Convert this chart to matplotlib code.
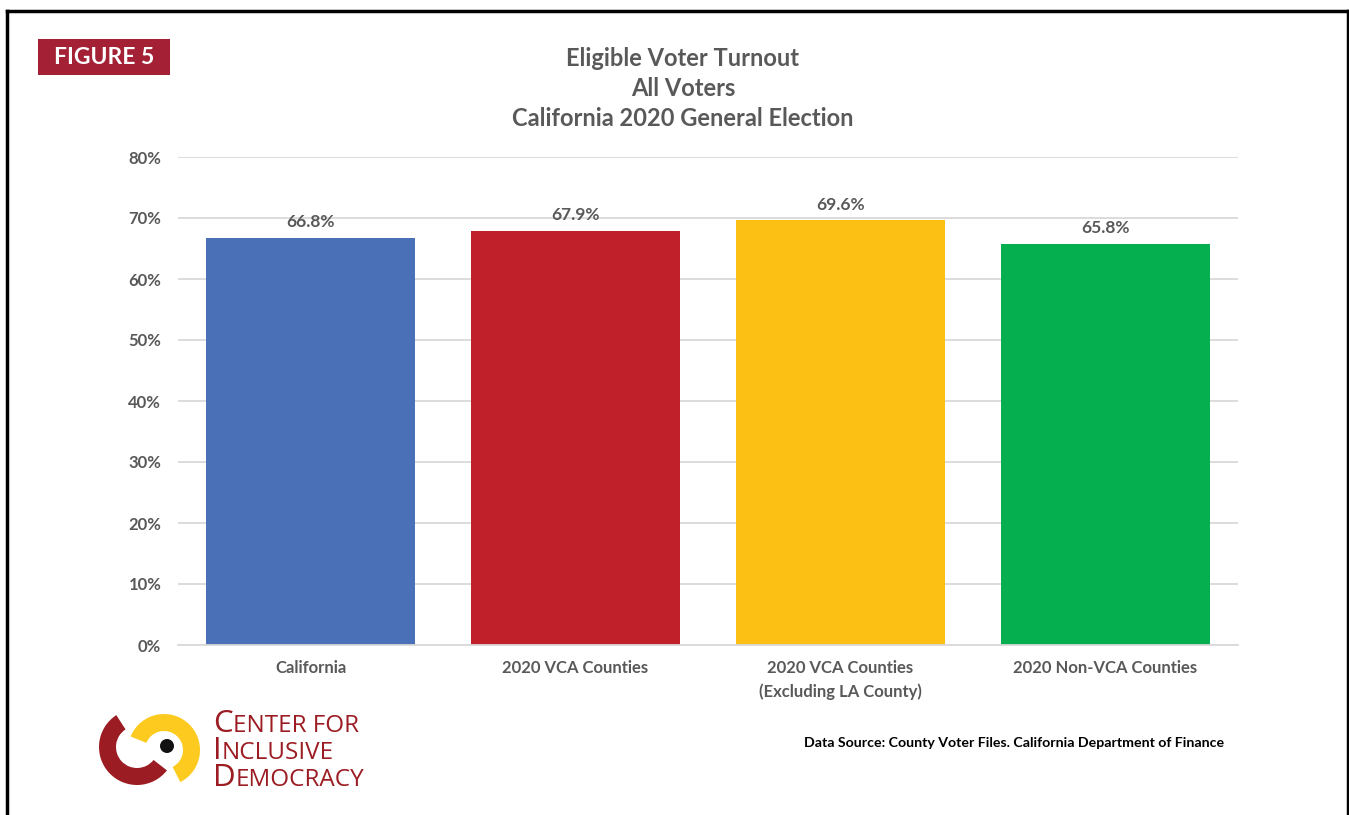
import matplotlib
matplotlib.use('Agg')
import matplotlib.pyplot as plt
from matplotlib.patches import Rectangle, Wedge, Circle
from matplotlib.ticker import FuncFormatter

# turnout by region
categories = ['California', '2020 VCA Counties',
              '2020 VCA Counties\n(Excluding LA County)', '2020 Non-VCA Counties']
turnout = [66.8, 67.9, 69.6, 65.8]
bar_colors = ['#4A71B7', '#C0202A', '#FCC014', '#05AF50']
y_ticks = [0, 10, 20, 30, 40, 50, 60, 70, 80]

W, H = 1349, 815
GRAY = '#595959'
BRAND_RED = '#9B1C22'

plt.rcParams['font.family'] = ['Lato', 'DejaVu Sans']

fig = plt.figure(figsize=(W / 100, H / 100), dpi=100)


def fx(px):
    return px / W


def fy(py):
    return 1 - py / H


# outer frame (no bottom edge)
fig.add_artist(plt.Line2D([fx(7), fx(7)], [fy(11), 0], color='black', lw=2.5))
fig.add_artist(plt.Line2D([fx(7), fx(1347.5)], [fy(11), fy(11)], color='black', lw=2.5))
fig.add_artist(plt.Line2D([fx(1347.5), fx(1347.5)], [fy(11), 0], color='black', lw=2.5))

# figure badge
fig.add_artist(Rectangle((fx(38), fy(75)), fx(170) - fx(38), fy(39) - fy(75),
                         transform=fig.transFigure, color='#A32035', lw=0))
fig.text(fx(104), fy(57.5), 'FIGURE 5', color='white', fontsize=16.5,
         fontweight='bold', ha='center', va='center')

# title
for i, line in enumerate(['Eligible Voter Turnout', 'All Voters',
                          'California 2020 General Election']):
    fig.text(fx(683), fy(59 + 30 * i), line, color=GRAY, fontsize=17,
             fontweight='bold', ha='center', va='center')

ax = fig.add_axes([fx(178), fy(645), fx(1238) - fx(178), fy(157) - fy(645)])
x = range(len(categories))
ax.bar(x, turnout, width=0.785, color=bar_colors, zorder=2)
for xi, v in zip(x, turnout):
    ax.text(xi, v + 1.2, f'{v:.1f}%', ha='center', va='bottom',
            color=GRAY, fontsize=12.5, fontweight='bold')

ax.set_xlim(-0.5, len(categories) - 0.5)
ax.set_ylim(0, 80)
ax.set_yticks(y_ticks)
ax.yaxis.set_major_formatter(FuncFormatter(lambda v, _: f'{v:.0f}%'))
ax.set_xticks(list(x))
ax.set_xticklabels(categories, linespacing=1.5)
ax.tick_params(axis='both', length=0, colors=GRAY, labelsize=12)
ax.tick_params(axis='y', pad=12)
ax.tick_params(axis='x', pad=11)
for lbl in ax.get_xticklabels() + ax.get_yticklabels():
    lbl.set_fontweight('bold')
ax.grid(axis='y', color='#D9D9D9', lw=1.3, zorder=0)
for side in ['top', 'right', 'left']:
    ax.spines[side].set_visible(False)
ax.spines['bottom'].set_color('#D9D9D9')
ax.spines['bottom'].set_linewidth(1.3)
ax.set_facecolor('none')

# data source note
fig.text(fx(1224), fy(743), 'Data Source: County Voter Files. California Department of Finance',
         ha='right', va='center', fontsize=10.2, fontweight='bold', color='black')

# logo mark
lax = fig.add_axes([0, 0, fx(400), 400 / H])
lax.set_xlim(0, 400)
lax.set_ylim(0, 400)
lax.axis('off')
lax.add_patch(Wedge((137, 815 - 747), 38, 123, 322, width=17, color=BRAND_RED, lw=0))
lax.add_patch(Wedge((164, 815 - 750), 36, -63, 158, width=17, color='#FDCB1F', lw=0))
lax.add_patch(Circle((167, 815 - 746), 7, color='#111111', lw=0))

# logo wordmark in small caps
fig.canvas.draw()
renderer = fig.canvas.get_renderer()
for i, word in enumerate(['Center for', 'Inclusive', 'Democracy']):
    base = fy(732 + 27 * i)
    t1 = fig.text(fx(213), base, word[0].upper(), color=BRAND_RED, fontsize=22.5,
                  family='Open Sans', va='baseline', ha='left')
    bb = t1.get_window_extent(renderer)
    fig.text(bb.x1 / W, base, word[1:].upper(), color=BRAND_RED, fontsize=17.5,
             family='Open Sans', va='baseline', ha='left')

fig.savefig('out.png', dpi=100, facecolor='white')
